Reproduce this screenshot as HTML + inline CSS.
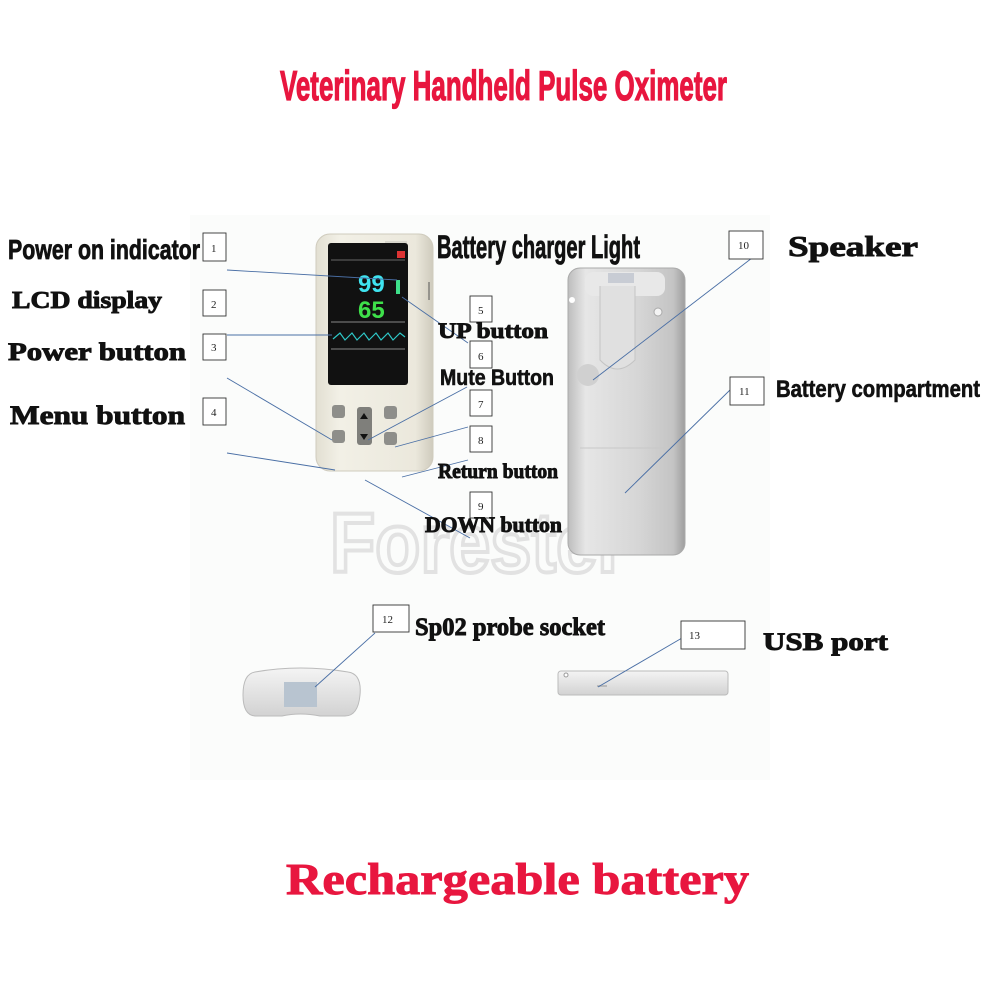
<!DOCTYPE html>
<html><head><meta charset="utf-8"><style>
html,body{margin:0;padding:0;background:#fff;}
svg{display:block;}
.c{font-family:"Liberation Sans Narrow","Liberation Sans",sans-serif;font-weight:bold;}
.s{font-family:"Liberation Serif",serif;font-weight:bold;stroke-width:0.9;}
.n{font-family:"Liberation Serif",serif;font-size:11px;fill:#222;}
</style></head><body>
<svg width="988" height="988" viewBox="0 0 988 988" xmlns="http://www.w3.org/2000/svg">
<defs>
<linearGradient id="back" x1="0" x2="1" y1="0" y2="0">
<stop offset="0" stop-color="#bdbdbd"/><stop offset="0.15" stop-color="#e6e6e6"/><stop offset="0.6" stop-color="#d6d6d6"/><stop offset="0.9" stop-color="#c4c4c4"/><stop offset="1" stop-color="#9e9e9e"/>
</linearGradient>
<linearGradient id="front" x1="0" x2="1" y1="0" y2="0">
<stop offset="0" stop-color="#e2dfd2"/><stop offset="0.2" stop-color="#f2f0e6"/><stop offset="0.85" stop-color="#ebe8dc"/><stop offset="1" stop-color="#cfcbbd"/>
</linearGradient>
<linearGradient id="bar" x1="0" x2="0" y1="0" y2="1">
<stop offset="0" stop-color="#f4f4f4"/><stop offset="1" stop-color="#d2d2d2"/>
</linearGradient>
</defs>
<rect width="988" height="988" fill="#fff"/>
<rect x="190" y="215" width="580" height="565" fill="#fbfcfb"/>

<!-- watermark -->
<text x="330" y="572" font-family="Liberation Sans" font-weight="bold" font-size="84" fill="none" stroke="#e2e2e2" stroke-width="4" textLength="296" lengthAdjust="spacingAndGlyphs">Forester</text>

<!-- title -->
<text x="280" y="100" class="c" font-size="42" fill="#e8163f" stroke="#e8163f" stroke-width="1.2" textLength="447" lengthAdjust="spacingAndGlyphs">Veterinary Handheld Pulse Oximeter</text>
<text x="286" y="894" class="s" font-size="44" fill="#e8163f" stroke="#e8163f" stroke-width="1.6" textLength="463" lengthAdjust="spacingAndGlyphs">Rechargeable battery</text>

<!-- front device -->
<rect x="316" y="234" width="117" height="237" rx="14" fill="url(#front)" stroke="#cfcbbd"/>
<rect x="385" y="241" width="22" height="6" fill="#d8d6cc"/>
<rect x="328" y="243" width="80" height="142" rx="3" fill="#111"/>
<line x1="331" y1="260" x2="405" y2="260" stroke="#666"/>
<rect x="397" y="251" width="8" height="7" fill="#d33"/>
<text x="358" y="292" font-family="Liberation Sans" font-weight="bold" font-size="24" fill="#3fe4f0">99</text>
<text x="358" y="318" font-family="Liberation Sans" font-weight="bold" font-size="24" fill="#3ee04a">65</text>
<rect x="396" y="280" width="4" height="14" fill="#3ee08a"/>
<line x1="331" y1="322" x2="405" y2="322" stroke="#888"/>
<polyline points="333,339 340,333 345,340 352,333 357,340 364,333 369,340 376,333 381,340 388,333 393,340 400,333 405,337" fill="none" stroke="#2ec8c8" stroke-width="1.2"/>
<line x1="331" y1="349" x2="405" y2="349" stroke="#888"/>
<rect x="332" y="405" width="13" height="13" rx="3" fill="#8e8e8a"/>
<rect x="332" y="430" width="13" height="13" rx="3" fill="#8e8e8a"/>
<rect x="357" y="407" width="15" height="38" rx="3" fill="#7f7f7b"/>
<polygon points="364,413 360,419 368,419" fill="#111"/><polygon points="364,440 360,434 368,434" fill="#111"/>
<rect x="384" y="406" width="13" height="13" rx="3" fill="#8e8e8a"/>
<rect x="384" y="432" width="13" height="13" rx="3" fill="#8e8e8a"/>
<line x1="429" y1="282" x2="429" y2="300" stroke="#555"/>

<!-- back device -->
<rect x="568" y="268" width="117" height="287" rx="12" fill="url(#back)" stroke="#aaa"/>
<rect x="585" y="272" width="80" height="24" rx="8" fill="#e8e8e8"/>
<rect x="608" y="273" width="26" height="10" fill="#c8ccd4"/>
<path d="M600 286 L600 360 Q617 378 635 360 L635 286" fill="#e0e0e0" stroke="#c4c4c4"/>
<circle cx="588" cy="375" r="11" fill="#d0d0d0"/>
<circle cx="572" cy="300" r="3" fill="#fff"/><circle cx="658" cy="312" r="4" fill="#f4f4f4" stroke="#aaa"/>
<line x1="580" y1="448" x2="670" y2="448" stroke="#c8c8c8"/>

<!-- probe end -->
<path d="M255 672 Q300 664 348 672 Q362 674 360 695 Q358 716 345 716 L320 716 Q300 712 282 716 L256 716 Q243 716 243 695 Q243 674 255 672Z" fill="url(#bar)" stroke="#bbb"/>
<rect x="284" y="682" width="33" height="25" fill="#b8c4d0"/>
<!-- usb bar -->
<rect x="558" y="671" width="170" height="24" rx="3" fill="url(#bar)" stroke="#bbb"/>
<circle cx="566" cy="675" r="2" fill="#fff" stroke="#999"/>
<rect x="597" y="685" width="10" height="2" fill="#bbb"/>

<!-- leader lines -->
<g stroke="#4a6fa5" stroke-width="0.9" fill="none">
<line x1="227" y1="270" x2="397" y2="280"/>
<line x1="402" y1="297" x2="468" y2="343"/>
<line x1="227" y1="335" x2="332" y2="335"/>
<line x1="227" y1="378" x2="332" y2="440"/>
<line x1="227" y1="453" x2="335" y2="470"/>
<line x1="467" y1="387" x2="368" y2="440"/>
<line x1="468" y1="427" x2="395" y2="447"/>
<line x1="468" y1="460" x2="402" y2="477"/>
<line x1="365" y1="480" x2="470" y2="538"/>
<line x1="752" y1="258" x2="593" y2="380"/>
<line x1="730" y1="390" x2="625" y2="493"/>
<line x1="375" y1="633" x2="315" y2="687"/>
<line x1="682" y1="638" x2="598" y2="687"/>
</g>

<!-- boxes -->
<g fill="#fff" stroke="#333" stroke-width="0.9">
<rect x="203" y="233" width="23" height="28"/>
<rect x="203" y="290" width="23" height="26"/>
<rect x="203" y="334" width="23" height="26"/>
<rect x="203" y="398" width="23" height="27"/>
<rect x="470" y="296" width="22" height="26"/>
<rect x="470" y="341" width="22" height="27"/>
<rect x="470" y="390" width="22" height="26"/>
<rect x="470" y="426" width="22" height="26"/>
<rect x="470" y="492" width="22" height="26"/>
<rect x="729" y="231" width="34" height="28"/>
<rect x="730" y="377" width="34" height="28"/>
<rect x="373" y="605" width="36" height="27"/>
<rect x="681" y="621" width="64" height="28"/>
</g>
<text class="n" x="211" y="252">1</text><text class="n" x="211" y="308">2</text><text class="n" x="211" y="351">3</text><text class="n" x="211" y="416">4</text>
<text class="n" x="478" y="314">5</text><text class="n" x="478" y="360">6</text><text class="n" x="478" y="408">7</text><text class="n" x="478" y="444">8</text><text class="n" x="478" y="510">9</text>
<text class="n" x="738" y="249">10</text><text class="n" x="739" y="395">11</text><text class="n" x="382" y="623">12</text><text class="n" x="689" y="639">13</text>

<!-- labels -->
<g fill="#111" stroke="#111">
<text x="8" y="259" class="c" font-size="28" stroke-width="0.8" textLength="192" lengthAdjust="spacingAndGlyphs">Power on indicator</text>
<text x="12" y="308" class="s" font-size="24" textLength="150" lengthAdjust="spacingAndGlyphs">LCD display</text>
<text x="8" y="360" class="s" font-size="25" textLength="178" lengthAdjust="spacingAndGlyphs">Power button</text>
<text x="10" y="424" class="s" font-size="26" textLength="175" lengthAdjust="spacingAndGlyphs">Menu button</text>
<text x="437" y="258" class="c" font-size="32" stroke-width="0.8" textLength="203" lengthAdjust="spacingAndGlyphs">Battery charger Light</text>
<text x="438" y="338" class="s" font-size="22" textLength="110" lengthAdjust="spacingAndGlyphs">UP button</text>
<text x="440" y="385" class="c" font-size="22" stroke-width="0.6" textLength="114" lengthAdjust="spacingAndGlyphs">Mute Button</text>
<text x="438" y="478" class="s" font-size="21" textLength="120" lengthAdjust="spacingAndGlyphs">Return button</text>
<text x="425" y="532" class="s" font-size="22" textLength="137" lengthAdjust="spacingAndGlyphs">DOWN button</text>
<text x="788" y="256" class="s" font-size="29" textLength="130" lengthAdjust="spacingAndGlyphs">Speaker</text>
<text x="776" y="397" class="c" font-size="24" stroke-width="0.6" textLength="204" lengthAdjust="spacingAndGlyphs">Battery compartment</text>
<text x="415" y="635" class="s" font-size="25" textLength="190" lengthAdjust="spacingAndGlyphs">Sp02 probe socket</text>
<text x="763" y="650" class="s" font-size="25" textLength="125" lengthAdjust="spacingAndGlyphs">USB port</text>
</g>
</svg>
</body></html>
